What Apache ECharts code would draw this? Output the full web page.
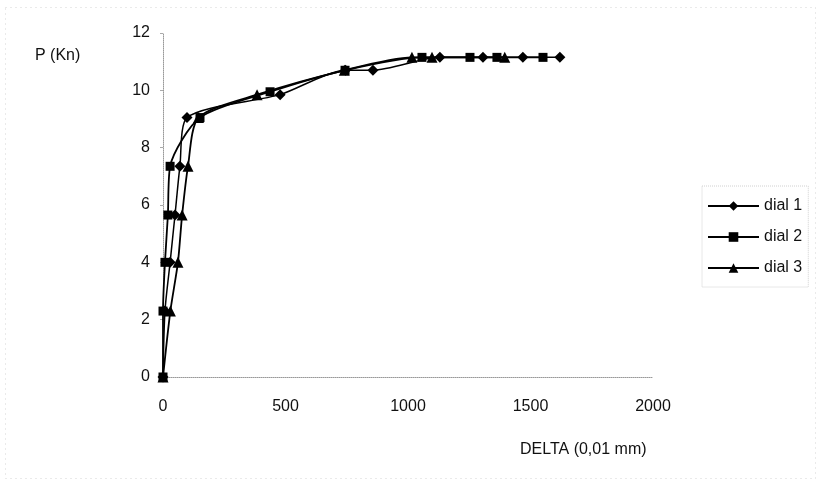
<!DOCTYPE html>
<html>
<head>
<meta charset="utf-8">
<script src="https://cdn.jsdelivr.net/npm/echarts@6/dist/echarts.min.js"></script>
<style>
  html, body { margin: 0; padding: 0; background: #fff; }
  #chart { width: 816px; height: 479px; }
</style>
</head>
<body>
<div id="chart"></div>
<script>
// Load P (kN) against dial readings DELTA (0,01 mm) for three dial gauges
const dial1X = [0, 8, 29, 49, 69, 98, 478, 745, 857, 1130, 1306, 1469, 1620];
const dial1Y = [0, 2.3, 4, 5.65, 7.35, 9.05, 9.85, 10.7, 10.7, 11.15, 11.15, 11.15, 11.15];

const dial2X = [0, 0, 8, 20, 29, 151, 437, 743, 1057, 1253, 1363, 1551];
const dial2Y = [0, 2.3, 4, 5.65, 7.35, 9.05, 9.95, 10.7, 11.15, 11.15, 11.15, 11.15];

const dial3X = [0, 30, 61, 78, 102, 145, 384, 740, 1016, 1098, 1395];
const dial3Y = [0, 2.3, 4, 5.65, 7.35, 9.05, 9.85, 10.7, 11.15, 11.15, 11.15];

const seriesNames = ['dial 1', 'dial 2', 'dial 3'];
const seriesSymbols = ['diamond', 'rect', 'triangle'];
const xTicks = [0, 500, 1000, 1500, 2000];
const yTicks = [0, 2, 4, 6, 8, 10, 12];

function pairs(xs, ys) {
  return xs.map((x, i) => [x, ys[i]]);
}

const seriesData = [pairs(dial1X, dial1Y), pairs(dial2X, dial2Y), pairs(dial3X, dial3Y)];
const symbolSizes = [11, 9, 11];

const chart = echarts.init(document.getElementById('chart'), null, { renderer: 'canvas' });

const font = 'Liberation Sans, Arial, sans-serif';

chart.setOption({
  backgroundColor: '#ffffff',
  animation: false,
  textStyle: { fontFamily: font },
  title: [
    { text: 'P (Kn)', left: 30, top: 43,
      textStyle: { fontSize: 16, fontWeight: 'normal', color: '#111', fontFamily: font } },
    { text: 'DELTA (0,01 mm)', left: 515, top: 437,
      textStyle: { fontSize: 16, fontWeight: 'normal', color: '#111', fontFamily: font } }
  ],
  // faint dotted frame around the whole chart area
  graphic: [{
    type: 'rect',
    left: 3, top: 5,
    shape: { width: 810, height: 471 },
    style: { fill: 'none', stroke: '#d4d4d4', lineWidth: 1, lineDash: [1, 4] },
    silent: true
  }],
  grid: { left: 163, right: 163, top: 33, bottom: 102, containLabel: false },
  legend: {
    orient: 'vertical',
    left: 702,
    top: 186,
    itemGap: 15,
    itemWidth: 51,
    itemHeight: 12,
    padding: [12, 6, 11, 5],
    borderColor: '#d0d0d0',
    borderWidth: 1,
    borderType: 'dotted',
    textStyle: { fontSize: 16, color: '#111', fontFamily: font },
    data: seriesNames
  },
  xAxis: {
    type: 'value',
    min: 0,
    max: 2000,
    interval: 500,
    axisLine: { show: true, lineStyle: { color: '#999', type: 'dotted', width: 1 } },
    axisTick: { show: false },
    splitLine: { show: false },
    axisLabel: {
      margin: 22, fontSize: 16, color: '#111', fontFamily: font,
      formatter: v => (xTicks.indexOf(v) >= 0 ? String(v) : '')
    }
  },
  yAxis: {
    type: 'value',
    min: 0,
    max: 12,
    interval: 2,
    axisLine: { show: true, lineStyle: { color: '#999', type: 'dotted', width: 1 } },
    axisTick: { show: true, length: 3, lineStyle: { color: '#aaa' } },
    splitLine: { show: false },
    axisLabel: {
      margin: 13, fontSize: 16, color: '#111', fontFamily: font,
      formatter: v => (yTicks.indexOf(v) >= 0 ? String(v) : '')
    }
  },
  series: seriesNames.map((name, i) => ({
    name: name,
    type: 'line',
    data: seriesData[i],
    smooth: 0.25,
    symbol: seriesSymbols[i],
    symbolSize: symbolSizes[i],
    showAllSymbol: true,
    itemStyle: { color: '#000' },
    lineStyle: { color: '#000', width: i === 0 ? 1.5 : 1.8 },
    z: 2 + i
  }))
});
</script>
</body>
</html>
